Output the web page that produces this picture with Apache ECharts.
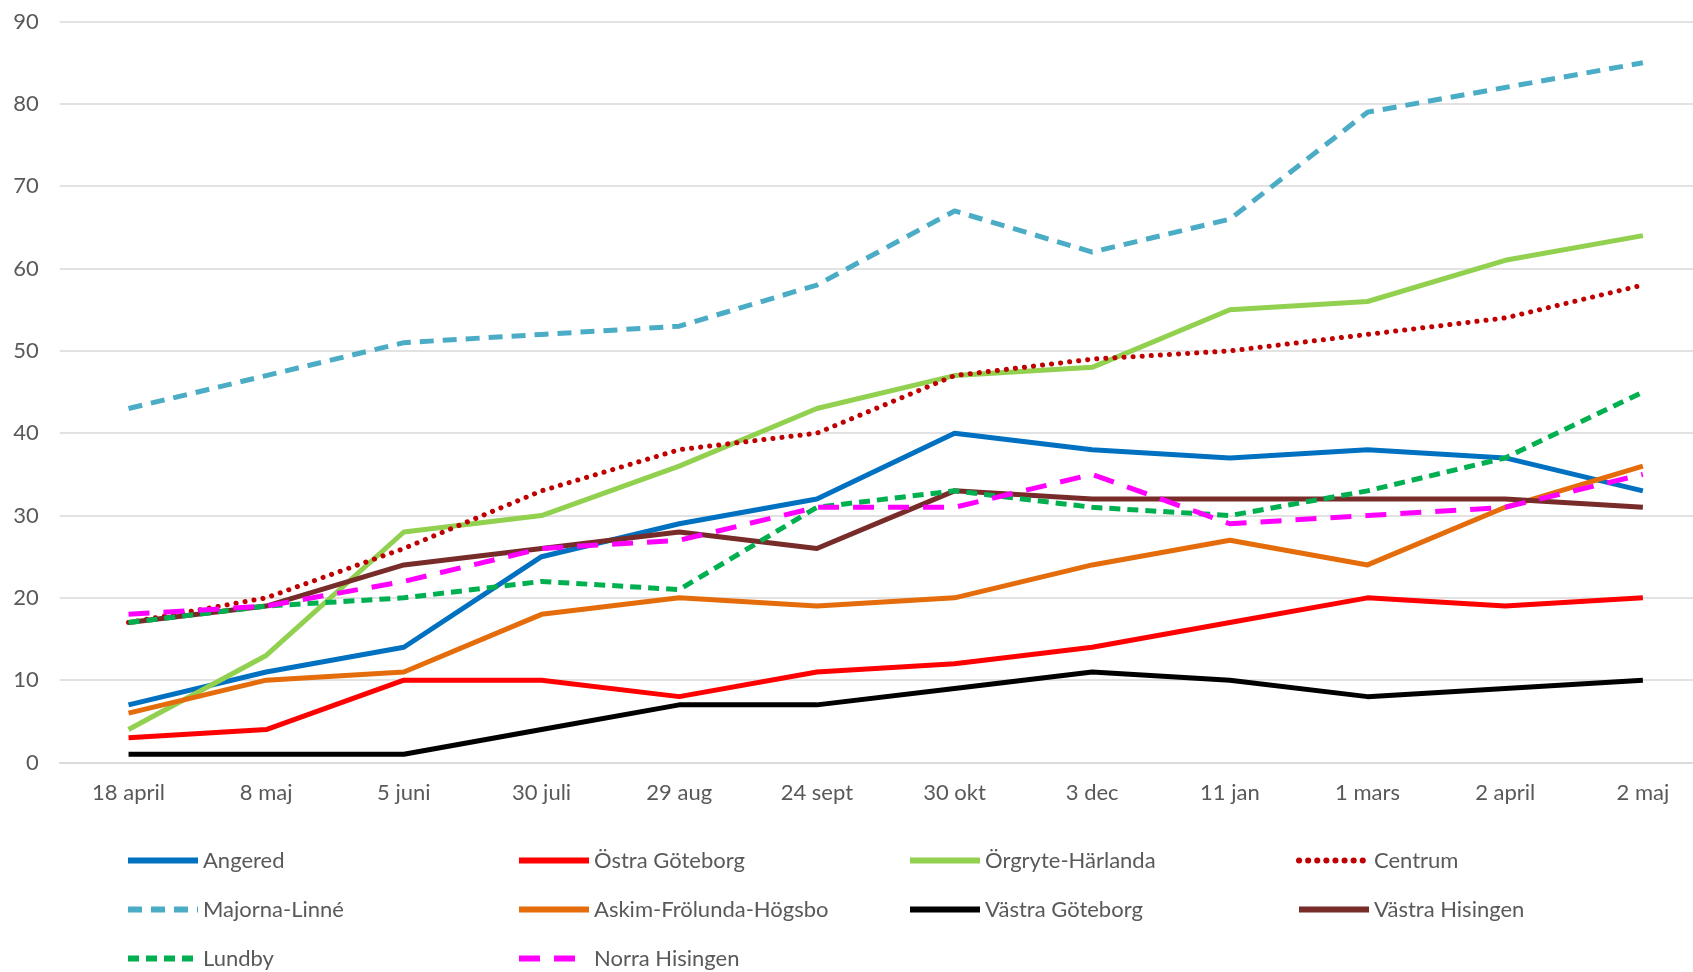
<!DOCTYPE html>
<html>
<head>
<meta charset="utf-8">
<script src="https://cdn.jsdelivr.net/npm/echarts@6/dist/echarts.min.js"></script>
<style>
html,body{margin:0;padding:0;background:#fff;}
#chart{width:1693px;height:972px;}
</style>
</head>
<body>
<div id="chart"></div>
<script>
const categories = ["18 april","8 maj","5 juni","30 juli","29 aug","24 sept","30 okt","3 dec","11 jan","1 mars","2 april","2 maj"];
const angered = [7, 11, 14, 25, 29, 32, 40, 38, 37, 38, 37, 33];
const ostraGoteborg = [3, 4, 10, 10, 8, 11, 12, 14, 17, 20, 19, 20];
const orgryteHarlanda = [4, 13, 28, 30, 36, 43, 47, 48, 55, 56, 61, 64];
const centrum = [17, 20, 26, 33, 38, 40, 47, 49, 50, 52, 54, 58];
const majornaLinne = [43, 47, 51, 52, 53, 58, 67, 62, 66, 79, 82, 85];
const askim = [6, 10, 11, 18, 20, 19, 20, 24, 27, 24, 31, 36];
const vastraGoteborg = [1, 1, 1, 4, 7, 7, 9, 11, 10, 8, 9, 10];
const vastraHisingen = [17, 19, 24, 26, 28, 26, 33, 32, 32, 32, 32, 31];
const lundby = [17, 19, 20, 22, 21, 31, 33, 31, 30, 33, 37, 45];
const norraHisingen = [18, 19, 22, 26, 27, 31, 31, 35, 29, 30, 31, 35];
const yTicks = [0, 10, 20, 30, 40, 50, 60, 70, 80, 90];

const seriesDefs = [
  {name: "Angered", data: angered, color: "#0070C0", type: "solid"},
  {name: "Östra Göteborg", data: ostraGoteborg, color: "#FF0000", type: "solid"},
  {name: "Örgryte-Härlanda", data: orgryteHarlanda, color: "#92D050", type: "solid"},
  {name: "Centrum", data: centrum, color: "#C00000", type: [0.1, 9], cap: "round"},
  {name: "Majorna-Linné", data: majornaLinne, color: "#4BACC6", type: [14, 9]},
  {name: "Askim-Frölunda-Högsbo", data: askim, color: "#E46C0A", type: "solid"},
  {name: "Västra Göteborg", data: vastraGoteborg, color: "#000000", type: "solid"},
  {name: "Västra Hisingen", data: vastraHisingen, color: "#772C2A", type: "solid"},
  {name: "Lundby", data: lundby, color: "#00B050", type: [11, 7]},
  {name: "Norra Hisingen", data: norraHisingen, color: "#FF00FF", type: [21, 14]}
];

const FONT = "Lato";
const legendCols = [125, 516, 907, 1296];
const legendRows = [861, 910, 959];

const legends = seriesDefs.map((s, i) => ({
  data: [s.name],
  left: legendCols[i % 4],
  top: legendRows[Math.floor(i / 4)] - 11.5,
  padding: 0,
  itemWidth: 70,
  itemHeight: 20,
  itemGap: 0,
  itemStyle: {opacity: 0},
  lineStyle: {width: 6, type: "inherit", cap: "inherit", color: "inherit"},
  textStyle: {fontFamily: FONT, fontSize: 22, color: "#595959"}
}));

const chart = echarts.init(document.getElementById("chart"), null, {renderer: "canvas"});
chart.setOption({
  animation: false,
  backgroundColor: "#ffffff",
  legend: legends,
  grid: {left: 59.7, width: 1652, top: 21.6, bottom: 209.5, containLabel: false, outerBoundsMode: "none"},
  xAxis: {
    type: "category",
    data: categories,
    boundaryGap: true,
    axisLine: {show: true, lineStyle: {color: "#D9D9D9", width: 1.5}},
    axisTick: {show: false},
    axisLabel: {fontFamily: FONT, fontSize: 22, color: "#595959", margin: 19, interval: 0}
  },
  yAxis: {
    type: "value",
    min: yTicks[0],
    max: yTicks[yTicks.length - 1],
    interval: 10,
    axisLine: {show: false},
    axisTick: {show: false},
    splitLine: {lineStyle: {color: "#D9D9D9", width: 1.5}},
    axisLabel: {fontFamily: FONT, fontSize: 22, color: "#595959", margin: 21}
  },
  series: seriesDefs.map(s => ({
    name: s.name,
    type: "line",
    data: s.data,
    symbol: "none",
    showSymbol: false,
    color: s.color,
    lineStyle: {color: s.color, width: 5, type: s.type, cap: s.cap || "butt", join: "round"},
    emphasis: {disabled: true}
  }))
});
</script>
</body>
</html>
